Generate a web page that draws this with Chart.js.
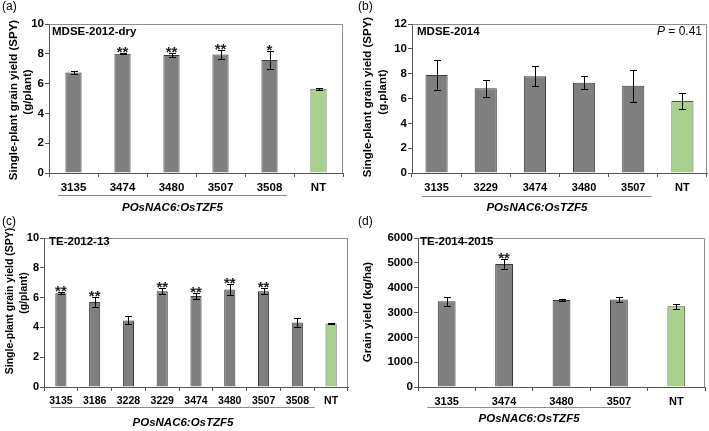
<!DOCTYPE html>
<html lang="en">
<head>
<meta charset="UTF-8">
<title>POsNAC6:OsTZF5 grain yield</title>
<script src="https://cdn.jsdelivr.net/npm/chart.js"></script>
<style>
  body { margin: 0; background: #fff; }
  .panel { position: absolute; }
</style>
</head>
<body>
<div class="panel" style="left:0;top:0"><canvas id="chartA" width="355" height="215"></canvas></div>
<div class="panel" style="left:355px;top:0"><canvas id="chartB" width="354" height="215"></canvas></div>
<div class="panel" style="left:0;top:215px"><canvas id="chartC" width="355" height="216"></canvas></div>
<div class="panel" style="left:355px;top:215px"><canvas id="chartD" width="354" height="216"></canvas></div>

<script>
// (a) MDSE-2012-dry, SPY g/plant
const linesA = ['3135', '3474', '3480', '3507', '3508', 'NT'];
const spyA = [6.75, 8.0, 7.92, 7.95, 7.58, 5.66];
const errA = [0.08, 0.03, 0.12, 0.3, 0.6, 0.07];
const starsA = ['', '**', '**', '**', '*', ''];
const yTicksA = [0, 2, 4, 6, 8, 10];

// (b) MDSE-2014
const linesB = ['3135', '3229', '3474', '3480', '3507', 'NT'];
const spyB = [7.9, 6.82, 7.8, 7.26, 7.03, 5.8];
const errB = [1.22, 0.7, 0.82, 0.52, 1.3, 0.63];
const starsB = ['', '', '', '', '', ''];
const yTicksB = [0, 2, 4, 6, 8, 10, 12];

// (c) TE-2012-13
const linesC = ['3135', '3186', '3228', '3229', '3474', '3480', '3507', '3508', 'NT'];
const spyC = [6.3, 5.7, 4.47, 6.43, 6.1, 6.55, 6.43, 4.33, 4.27];
const errC = [0.05, 0.36, 0.27, 0.22, 0.18, 0.35, 0.2, 0.3, 0.03];
const starsC = ['**', '**', '', '**', '**', '**', '**', '', ''];
const yTicksC = [0, 2, 4, 6, 8, 10];

// (d) TE-2014-2015, grain yield kg/ha
const linesD = ['3135', '3474', '3480', '3507', 'NT'];
const yieldD = [3450, 4950, 3500, 3520, 3250];
const errD = [170, 190, 40, 110, 90];
const starsD = ['', '**', '', '', ''];
const yTicksD = [0, 1000, 2000, 3000, 4000, 5000, 6000];

const FONT = "'Liberation Sans', Arial, sans-serif";
const GRAY = '#7f7f7f';
const GREEN = '#a9d18e';
const AXIS = '#555555';

function txt(ctx, s, x, y, font, align, rot) {
  ctx.save();
  ctx.font = font;
  ctx.fillStyle = '#000';
  ctx.textAlign = align || 'left';
  ctx.textBaseline = 'middle';
  ctx.translate(x, y);
  if (rot) ctx.rotate(-Math.PI / 2);
  ctx.fillText(s, 0, 0);
  ctx.restore();
}

// error bars, stars and all the panel text
const extras = {
  id: 'extras',
  afterDraw(chart) {
    const o = chart.options.plugins.extras;
    const ctx = chart.ctx;
    const a = chart.chartArea;
    const xs = chart.scales.x, ys = chart.scales.y;
    const meta = chart.getDatasetMeta(0);

    ctx.save();
    ctx.strokeStyle = '#8c8c8c';
    ctx.lineWidth = 1;
    ctx.beginPath();
    ctx.moveTo(a.left + 0.5, a.top + 0.5);
    ctx.lineTo(a.right - 0.5, a.top + 0.5);
    ctx.lineTo(a.right - 0.5, a.bottom);
    ctx.stroke();

    ctx.strokeStyle = '#000';
    meta.data.forEach((bar, i) => {
      const v = o.vals[i], e = o.errs[i];
      const x = Math.round(bar.x) + 0.5;
      const yt = Math.round(ys.getPixelForValue(v + e)) + 0.5;
      const yb = Math.round(ys.getPixelForValue(v - e)) + 0.5;
      ctx.beginPath();
      ctx.moveTo(x, yt); ctx.lineTo(x, yb);
      ctx.moveTo(x - 3.5, yt); ctx.lineTo(x + 3.5, yt);
      ctx.moveTo(x - 3.5, yb); ctx.lineTo(x + 3.5, yb);
      ctx.stroke();
      if (o.stars[i]) {
        ctx.font = 'bold 15px ' + FONT;
        ctx.fillStyle = '#222';
        ctx.textAlign = 'center';
        ctx.textBaseline = 'alphabetic';
        ctx.fillText(o.stars[i], bar.x, yt + 3);
      }
    });

    // line under the transgenic lines and its label
    const step = xs.getPixelForValue(1) - xs.getPixelForValue(0);
    const x0 = xs.getPixelForValue(0) + o.under.from * step;
    const x1 = xs.getPixelForValue(o.under.last) + o.under.to * step;
    ctx.strokeStyle = '#8c8c8c';
    ctx.beginPath();
    ctx.moveTo(x0, o.under.y); ctx.lineTo(x1, o.under.y);
    ctx.stroke();
    ctx.restore();

    txt(ctx, 'POsNAC6:OsTZF5', (x0 + x1) / 2, o.under.label, 'italic bold 11.5px ' + FONT, 'center');
    txt(ctx, o.tag, o.tagX, 7, '12px ' + FONT, 'left');
    txt(ctx, o.title.text, o.title.x, o.title.y, 'bold 11.5px ' + FONT, 'left');
    o.yTitle.forEach(t => txt(ctx, t.text, t.x, t.y, 'bold ' + t.size + 'px ' + FONT, 'center', true));

    if (o.pval) {
      ctx.save();
      ctx.font = '12px ' + FONT;
      const rest = ' = 0.41';
      const w = ctx.measureText(rest).width;
      ctx.restore();
      txt(ctx, rest, o.pval.x - w, o.pval.y, '12px ' + FONT, 'left');
      txt(ctx, 'P', o.pval.x - w, o.pval.y, 'italic 12px ' + FONT, 'right');
    }
  }
};

function makeChart(id, cats, vals, errs, stars, yTicks, o) {
  const cv = document.getElementById(id);
  const W = cv.width, H = cv.height;
  return new Chart(cv, {
    type: 'bar',
    data: {
      labels: cats,
      datasets: [{
        data: vals,
        backgroundColor: cats.map(c => c === 'NT' ? GREEN : GRAY),
        borderColor: cats.map(c => c === 'NT' ? '#4d5a44' : '#3a3a3a'),
        borderWidth: 1,
        barPercentage: o.barPct,
        categoryPercentage: 1
      }]
    },
    options: {
      responsive: false,
      animation: false,
      events: [],
      layout: { padding: { top: o.area.top, right: W - o.area.right, left: 0, bottom: 0 } },
      plugins: {
        legend: { display: false },
        tooltip: { enabled: false },
        extras: Object.assign({ vals: vals, errs: errs, stars: stars }, o)
      },
      scales: {
        x: {
          grid: { drawOnChartArea: false, drawTicks: true, tickLength: 4, color: AXIS, offset: true },
          border: { color: AXIS },
          ticks: { color: '#000', font: { family: FONT, size: o.xFont, weight: 'bold' }, padding: 4, maxRotation: 0, autoSkip: false },
          afterFit: s => { s.height = H - o.area.bottom; }
        },
        y: {
          min: yTicks[0],
          max: yTicks[yTicks.length - 1],
          afterBuildTicks: s => { s.ticks = yTicks.map(v => ({ value: v })); },
          grid: { drawOnChartArea: false, drawTicks: true, tickLength: 4, color: AXIS },
          border: { color: AXIS },
          ticks: { color: '#000', font: { family: FONT, size: o.yFont || 11.5, weight: 'bold' }, padding: 1, callback: v => String(v) },
          afterFit: s => { s.width = o.area.left; }
        }
      }
    },
    plugins: [extras]
  });
}

makeChart('chartA', linesA, spyA, errA, starsA, yTicksA, {
  area: { left: 49, top: 24, right: 343, bottom: 173 }, barPct: 0.33, xFont: 11.5,
  tag: '(a)', tagX: 2,
  title: { text: 'MDSE-2012-dry', x: 52, y: 32 },
  yTitle: [{ text: 'Single-plant grain yield (SPY)', x: 14, y: 100, size: 11.5 }, { text: '(g/plant)', x: 28, y: 92, size: 11.5 }],
  under: { from: -0.32, last: 4, to: 0.36, y: 195.5, label: 208 }
});

makeChart('chartB', linesB, spyB, errB, starsB, yTicksB, {
  area: { left: 57, top: 24, right: 352, bottom: 173 }, barPct: 0.45, xFont: 11,
  tag: '(b)', tagX: 3,
  title: { text: 'MDSE-2014', x: 62, y: 32 },
  yTitle: [{ text: 'Single-plant grain yield (SPY)', x: 13, y: 97, size: 11.5 }, { text: '(g.plant)', x: 28, y: 92, size: 11.5 }],
  under: { from: -0.30, last: 4, to: 0.38, y: 196.5, label: 208 },
  pval: { x: 347, y: 32 }
});

makeChart('chartC', linesC, spyC, errC, starsC, yTicksC, {
  area: { left: 44, top: 23, right: 348, bottom: 172 }, barPct: 0.33, xFont: 10.5, yFont: 11,
  tag: '(c)', tagX: 2,
  title: { text: 'TE-2012-13', x: 49, y: 27 },
  yTitle: [{ text: 'Single-plant grain yield (SPY)', x: 10, y: 86, size: 10.5 }, { text: '(g/plant)', x: 24, y: 78, size: 10.5 }],
  under: { from: -0.29, last: 7, to: 0.52, y: 192.5, label: 208 }
});

makeChart('chartD', linesD, yieldD, errD, starsD, yTicksD, {
  area: { left: 63, top: 23, right: 350, bottom: 172 }, barPct: 0.31, xFont: 11,
  tag: '(d)', tagX: 3,
  title: { text: 'TE-2014-2015', x: 65, y: 27 },
  yTitle: [{ text: 'Grain yield (kg/ha)', x: 13, y: 97, size: 11.5 }],
  under: { from: -0.34, last: 3, to: 0.21, y: 192.5, label: 204 }
});
</script>
</body>
</html>
